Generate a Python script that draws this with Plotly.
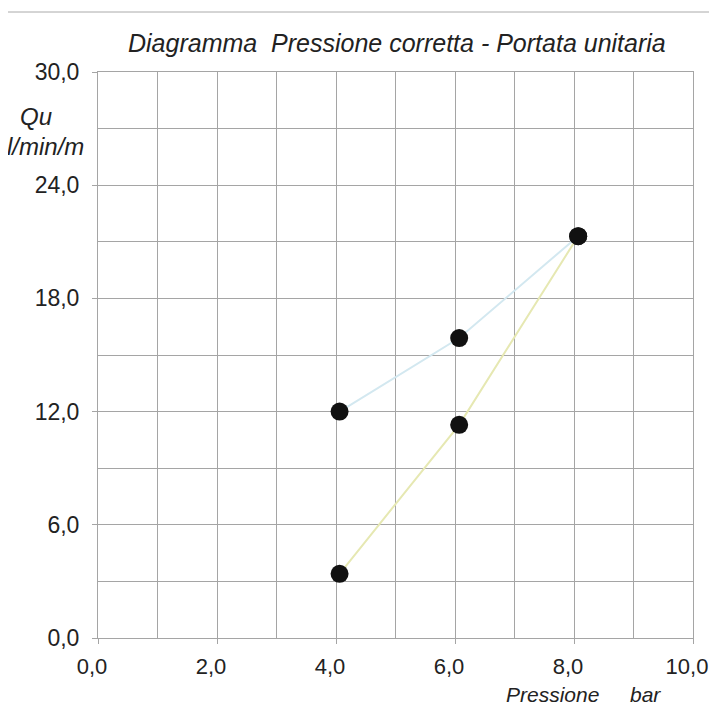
import plotly.graph_objects as go

# ---- data ----
pressure_upper = [4.06, 6.07, 8.07]
flow_upper = [12.0, 15.9, 21.3]
pressure_lower = [4.06, 6.07, 8.07]
flow_lower = [3.4, 11.3, 21.3]

x_tick_values = [0, 2, 4, 6, 8, 10]
x_tick_labels = ["0,0", "2,0", "4,0", "6,0", "8,0", "10,0"]
y_tick_values = [0, 6, 12, 18, 24, 30]
y_tick_labels = ["0,0", "6,0", "12,0", "18,0", "24,0", "30,0"]

title_text = "Diagramma&nbsp;&nbsp;Pressione corretta - Portata unitaria"
y_label_1 = "Qu"
y_label_2 = "l/min/m"
x_label_1 = "Pressione"
x_label_2 = "bar"

FONT = "Liberation Sans, Arial, sans-serif"
GRID = "rgb(165,165,165)"

fig = go.Figure()
fig.add_trace(go.Scatter(x=pressure_upper, y=flow_upper, mode="lines",
                         line=dict(color="#d3e8f0", width=2), showlegend=False))
fig.add_trace(go.Scatter(x=pressure_lower, y=flow_lower, mode="lines",
                         line=dict(color="#e6e8b2", width=2), showlegend=False))
fig.add_trace(go.Scatter(x=pressure_upper + pressure_lower, y=flow_upper + flow_lower,
                         mode="markers", marker=dict(color="#111111", size=18),
                         showlegend=False))

axis_common = dict(showgrid=True, gridcolor=GRID, gridwidth=1,
                   showline=True, mirror=True, linecolor=GRID, linewidth=1,
                   ticks="outside", ticklen=5, tickcolor=GRID, automargin=False,
                   zeroline=False)

fig.update_xaxes(range=[0, 10], tickmode="array", tickvals=x_tick_values,
                 ticktext=x_tick_labels, minor=dict(dtick=1, showgrid=True, gridcolor=GRID,
                                                    ticks=""),
                 tickfont=dict(family=FONT, size=22, color="#222"),
                 ticklabelstandoff=4, ticklabelshift=-6, **axis_common)
fig.update_yaxes(range=[0, 30], tickmode="array", tickvals=y_tick_values,
                 ticktext=y_tick_labels, minor=dict(dtick=3, showgrid=True, gridcolor=GRID,
                                                    ticks=""),
                 tickfont=dict(family=FONT, size=23, color="#222"),
                 ticklabelstandoff=8, **axis_common)

ann_font = dict(family=FONT, size=21, color="#222")
title_font = dict(family=FONT, size=25, color="#222")
ylab_font = dict(family=FONT, size=24, color="#222")
annotations = [
    dict(text="<i>" + title_text + "</i>", x=0.502, y=1.051, xref="paper", yref="paper",
         showarrow=False, xanchor="center", yanchor="middle", font=title_font),
    dict(text="<i>" + y_label_1 + "</i>", x=-0.105, y=0.9205, xref="paper", yref="paper",
         showarrow=False, xanchor="center", yanchor="middle", font=ylab_font),
    dict(text="<i>" + y_label_2 + "</i>", x=-0.0874, y=0.8675, xref="paper", yref="paper",
         showarrow=False, xanchor="center", yanchor="middle", font=ylab_font),
    dict(text="<i>" + x_label_1 + "</i>", x=0.7647, y=-0.1007, xref="paper", yref="paper",
         showarrow=False, xanchor="center", yanchor="middle", font=ann_font),
    dict(text="<i>" + x_label_2 + "</i>", x=0.920, y=-0.1007, xref="paper", yref="paper",
         showarrow=False, xanchor="center", yanchor="middle", font=ann_font),
]

fig.update_layout(
    width=709, height=704,
    margin=dict(l=90, r=24, t=64, b=74),
    paper_bgcolor="white", plot_bgcolor="white",
    annotations=annotations,
    shapes=[dict(type="line", xref="paper", yref="paper", x0=-0.165, x1=1.04,
                 y0=1.106, y1=1.106, line=dict(color="rgb(170,170,170)", width=1))],
)

fig.write_html("out.html")
